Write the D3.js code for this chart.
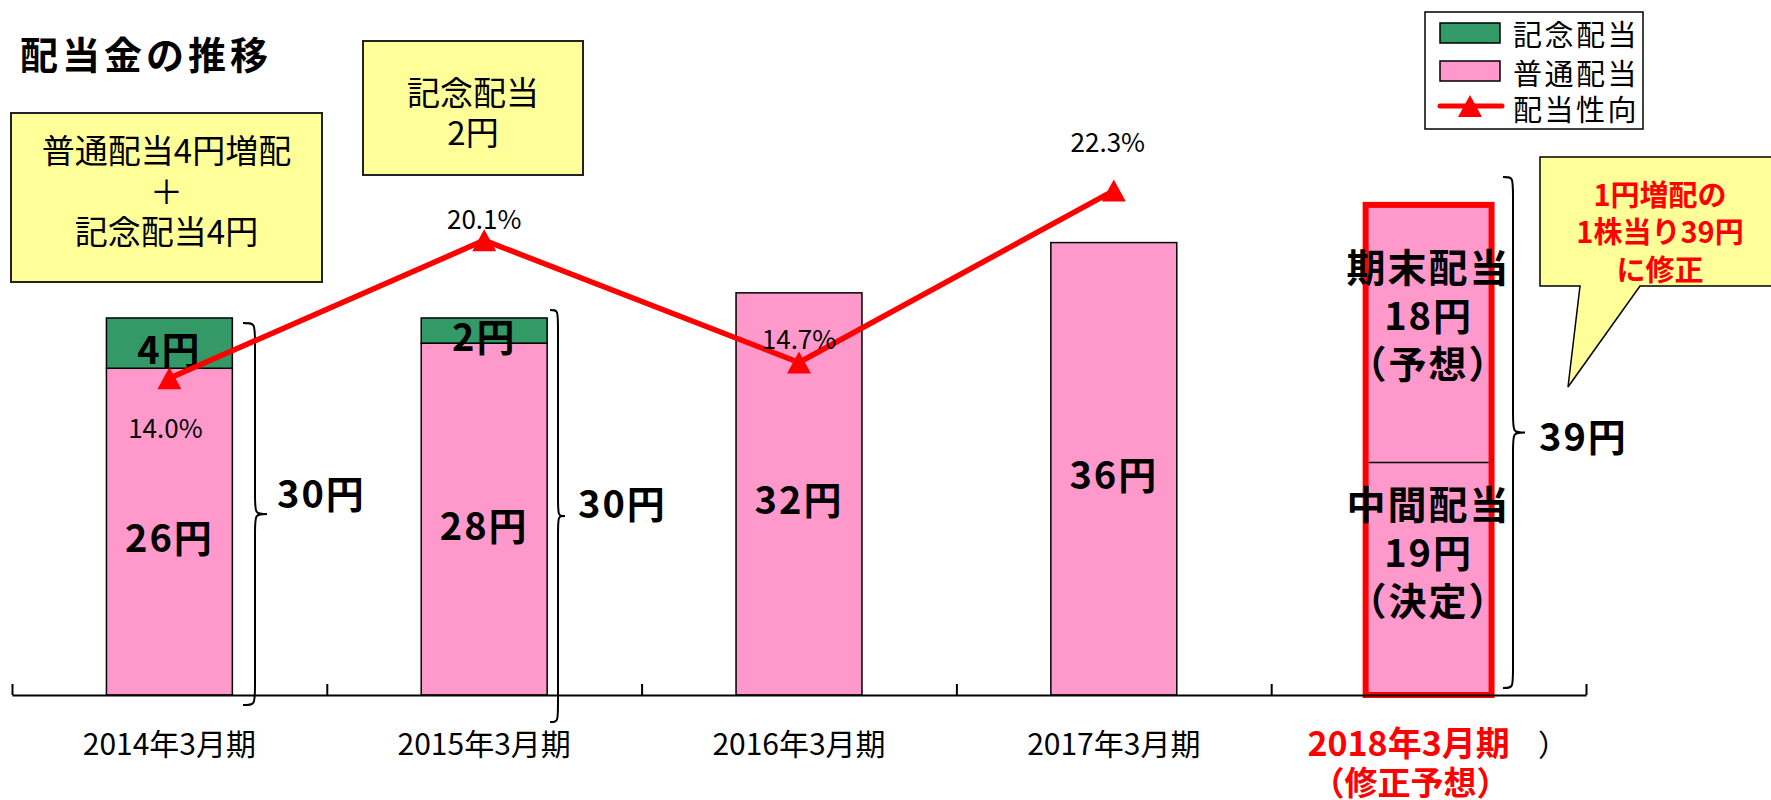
<!DOCTYPE html>
<html>
<head>
<meta charset="utf-8">
<title>配当金の推移</title>
<style>
  body { margin: 0; background: #fff; }
  svg { display: block; }
  text { font-family: "Noto Sans CJK JP", "Noto Sans", sans-serif; }
</style>
</head>
<body>
<div id="chart"></div>
<script src="https://cdn.jsdelivr.net/npm/d3@7"></script>
<script>

var categories = ["2014年3月期", "2015年3月期", "2016年3月期", "2017年3月期", "2018年3月期"];
var ordinary   = [26, 28, 32, 36, 39];          // 普通配当 (2018 = 中間 + 期末)
var memorial   = [4, 2, 0, 0, 0];               // 記念配当
var interim    = [null, null, null, null, 18.5]; // 2018 中間配当 part (divider)
var payout     = [14.0, 20.1, 14.7, 22.3];      // 配当性向 %
var ordinaryLabels = ["26円", "28円", "32円", "36円", null];
var memorialLabels = ["4円", "2円", null, null, null];
var payoutLabels   = ["14.0%", "20.1%", "14.7%", "22.3%"];

// label offsets for the payout ratio texts
var payoutLabelOffset = [[-4, 48], [0, -23], [0, -25], [-6, -50]];

var width = 1771, height = 800;
var baseY = 695;

var svg = d3.select("#chart").append("svg")
    .attr("width", width)
    .attr("height", height);

svg.append("rect").attr("width", width).attr("height", height).attr("fill", "#fff");

var x = d3.scaleBand()
    .domain(categories)
    .range([12, 1586])
    .paddingInner(0.6)
    .paddingOuter(0.3);

var xEdge = d3.scaleLinear().domain([0, categories.length]).range([12, 1586]);

var y = d3.scaleLinear().domain([0, 40]).range([baseY, baseY - 40 * 12.567]);
var yPct = d3.scaleLinear().domain([0, 30]).range([baseY, baseY - 30 * 22.62]);

var cx = function(c) { return x(c) + x.bandwidth() / 2; };

// title
svg.append("text")
    .attr("x", 20).attr("y", 52)
    .attr("dominant-baseline", "central")
    .attr("font-size", 38).attr("font-weight", "bold")
    .attr("letter-spacing", 4)
    .text("配当金の推移");

// yellow note boxes
function noteBox(x0, y0, x1, y1, lines, ys, size) {
    svg.append("rect")
        .attr("x", x0).attr("y", y0)
        .attr("width", x1 - x0).attr("height", y1 - y0)
        .attr("fill", "#FFFF99").attr("stroke", "#222").attr("stroke-width", 2);
    lines.forEach(function(t, i) {
        svg.append("text")
            .attr("x", (x0 + x1) / 2).attr("y", ys[i])
            .attr("text-anchor", "middle").attr("dominant-baseline", "central")
            .attr("font-size", size)
            .text(t);
    });
}
noteBox(11, 113, 322, 282, ["普通配当4円増配", "＋", "記念配当4円"], [149, 190, 230], 33);
noteBox(363, 41, 583, 175, ["記念配当", "2円"], [91, 131], 33);

// bars
var bars = svg.append("g");
categories.forEach(function(c, i) {
    var last = i === categories.length - 1;
    bars.append("rect")
        .attr("x", x(c)).attr("y", y(ordinary[i]))
        .attr("width", x.bandwidth()).attr("height", y(0) - y(ordinary[i]))
        .attr("fill", "#FF99CC")
        .attr("stroke", last ? "#FF0000" : "#000")
        .attr("stroke-width", last ? 6 : 1.5);
    if (memorial[i] > 0) {
        bars.append("rect")
            .attr("x", x(c)).attr("y", y(ordinary[i] + memorial[i]))
            .attr("width", x.bandwidth()).attr("height", y(ordinary[i]) - y(ordinary[i] + memorial[i]))
            .attr("fill", "#339966").attr("stroke", "#000").attr("stroke-width", 1.5);
    }
    if (interim[i] != null) {
        bars.append("line")
            .attr("x1", x(c) + 3).attr("x2", x(c) + x.bandwidth() - 3)
            .attr("y1", y(interim[i])).attr("y2", y(interim[i]))
            .attr("stroke", "#000").attr("stroke-width", 1.5);
    }
});

// axis with ticks at category edges
svg.append("g")
    .attr("transform", "translate(0," + baseY + ")")
    .call(d3.axisBottom(xEdge).ticks(categories.length).tickSize(-11).tickSizeOuter(0).tickFormat(""))
    .call(function(g) {
        g.selectAll("path, line").attr("stroke", "#000").attr("stroke-width", 2);
    });

// segment labels
categories.forEach(function(c, i) {
    if (ordinaryLabels[i]) {
        svg.append("text")
            .attr("x", cx(c)).attr("y", (y(0) + y(ordinary[i])) / 2 + 4)
            .attr("text-anchor", "middle").attr("dominant-baseline", "central")
            .attr("font-size", 38).attr("font-weight", "bold").attr("letter-spacing", 2)
            .text(ordinaryLabels[i]);
    }
    if (memorialLabels[i]) {
        svg.append("text")
            .attr("x", cx(c)).attr("y", (y(ordinary[i]) + y(ordinary[i] + memorial[i])) / 2 + 4)
            .attr("text-anchor", "middle").attr("dominant-baseline", "central")
            .attr("font-size", 38).attr("font-weight", "bold").attr("letter-spacing", 2)
            .text(memorialLabels[i]);
    }
});

// 2018 forecast bar texts
var c5 = categories[4];
var upperMid = (y(ordinary[4]) + y(interim[4])) / 2 - 20;
var lowerMid = (y(interim[4]) + y(0)) / 2 - 28;
[["期末配当", "18円", "（予想）", upperMid], ["中間配当", "19円", "（決定）", lowerMid]].forEach(function(b) {
    [-49, 0, 48].forEach(function(dy, k) {
        svg.append("text")
            .attr("x", cx(c5)).attr("y", b[3] + dy)
            .attr("text-anchor", "middle").attr("dominant-baseline", "central")
            .attr("font-size", k === 0 ? 39 : 38).attr("font-weight", "bold")
            .attr("letter-spacing", 2)
            .text(b[k]);
    });
});

// braces
function brace(x0, xm, x1, top, bottom) {
    var r = 20, mid = (top + bottom) / 2;
    return "M" + x0 + "," + top +
        "C" + xm + "," + top + " " + xm + "," + top + " " + xm + "," + (top + r) +
        "L" + xm + "," + (mid - r) +
        "C" + xm + "," + mid + " " + xm + "," + mid + " " + x1 + "," + mid +
        "C" + xm + "," + mid + " " + xm + "," + mid + " " + xm + "," + (mid + r) +
        "L" + xm + "," + (bottom - r) +
        "C" + xm + "," + bottom + " " + xm + "," + bottom + " " + x0 + "," + bottom;
}
var braces = [
    { x0: 243, xm: 255, x1: 267, top: 323, bottom: 705, label: "30円", lx: 277, ly: 491 },
    { x0: 550, xm: 558, x1: 565, top: 310, bottom: 722, label: "30円", lx: 578, ly: 501 },
    { x0: 1503, xm: 1513, x1: 1525, top: 177, bottom: 688, label: "39円", lx: 1539, ly: 434 }
];
braces.forEach(function(b) {
    svg.append("path")
        .attr("d", brace(b.x0, b.xm, b.x1, b.top, b.bottom))
        .attr("fill", "none").attr("stroke", "#000").attr("stroke-width", 2);
    svg.append("text")
        .attr("x", b.lx).attr("y", b.ly)
        .attr("dominant-baseline", "central")
        .attr("font-size", 38).attr("font-weight", "bold").attr("letter-spacing", 2)
        .text(b.label);
});

// payout ratio line
var tri = "M0,-11L12,11L-12,11Z";
var pts = payout.map(function(v, i) { return [cx(categories[i]), yPct(v)]; });

svg.append("path")
    .datum(pts)
    .attr("d", d3.line())
    .attr("fill", "none").attr("stroke", "#FF0000").attr("stroke-width", 5.5);

svg.selectAll(".marker")
    .data(pts)
    .enter().append("path")
    .attr("class", "marker")
    .attr("d", tri)
    .attr("transform", function(d) { return "translate(" + d[0] + "," + d[1] + ")"; })
    .attr("fill", "#FF0000");

svg.selectAll(".pct")
    .data(pts)
    .enter().append("text")
    .attr("class", "pct")
    .attr("x", function(d, i) { return d[0] + payoutLabelOffset[i][0]; })
    .attr("y", function(d, i) { return d[1] + payoutLabelOffset[i][1]; })
    .attr("text-anchor", "middle").attr("dominant-baseline", "central")
    .attr("font-size", 26)
    .text(function(d, i) { return payoutLabels[i]; });

// category labels
categories.forEach(function(c, i) {
    if (i < 4) {
        svg.append("text")
            .attr("x", cx(c)).attr("y", 742)
            .attr("text-anchor", "middle").attr("dominant-baseline", "central")
            .attr("font-size", 30)
            .text(c);
    }
});
svg.append("text")
    .attr("x", cx(c5) - 20).attr("y", 741)
    .attr("text-anchor", "middle").attr("dominant-baseline", "central")
    .attr("font-size", 34).attr("font-weight", "bold").attr("fill", "#FF0000")
    .text(c5);
svg.append("text")
    .attr("x", cx(c5) - 18).attr("y", 781)
    .attr("text-anchor", "middle").attr("dominant-baseline", "central")
    .attr("font-size", 33).attr("font-weight", "bold").attr("fill", "#FF0000")
    .text("（修正予想）");
svg.append("text")
    .attr("x", 1553).attr("y", 743)
    .attr("text-anchor", "middle").attr("dominant-baseline", "central")
    .attr("font-size", 30)
    .text("）");

// callout
svg.append("path")
    .attr("d", "M1540,157H1776V286H1640L1568,387L1580,286H1540Z")
    .attr("fill", "#FFFF99").attr("stroke", "#000").attr("stroke-width", 1.5);
[["1円増配の", 193], ["1株当り39円", 230], ["に修正", 268]].forEach(function(t) {
    svg.append("text")
        .attr("x", 1660).attr("y", t[1])
        .attr("text-anchor", "middle").attr("dominant-baseline", "central")
        .attr("font-size", 29).attr("font-weight", "bold").attr("fill", "#FF0000")
        .text(t[0]);
});

// legend
var legend = svg.append("g");
legend.append("rect")
    .attr("x", 1425).attr("y", 12).attr("width", 218).attr("height", 117)
    .attr("fill", "#fff").attr("stroke", "#000").attr("stroke-width", 1.5);
legend.append("rect")
    .attr("x", 1440).attr("y", 23).attr("width", 60).attr("height", 20)
    .attr("fill", "#339966").attr("stroke", "#000").attr("stroke-width", 1.5);
legend.append("rect")
    .attr("x", 1440).attr("y", 61).attr("width", 60).attr("height", 20)
    .attr("fill", "#FF99CC").attr("stroke", "#000").attr("stroke-width", 1.5);
legend.append("line")
    .attr("x1", 1440).attr("x2", 1502).attr("y1", 106).attr("y2", 106)
    .attr("stroke", "#FF0000").attr("stroke-width", 5).attr("stroke-linecap", "round");
legend.append("path")
    .attr("d", tri).attr("transform", "translate(1470,106)").attr("fill", "#FF0000");
[["記念配当", 33], ["普通配当", 72], ["配当性向", 108]].forEach(function(t) {
    legend.append("text")
        .attr("x", 1513).attr("y", t[1])
        .attr("dominant-baseline", "central")
        .attr("font-size", 29).attr("letter-spacing", 2.5)
        .text(t[0]);
});

</script>
</body>
</html>
